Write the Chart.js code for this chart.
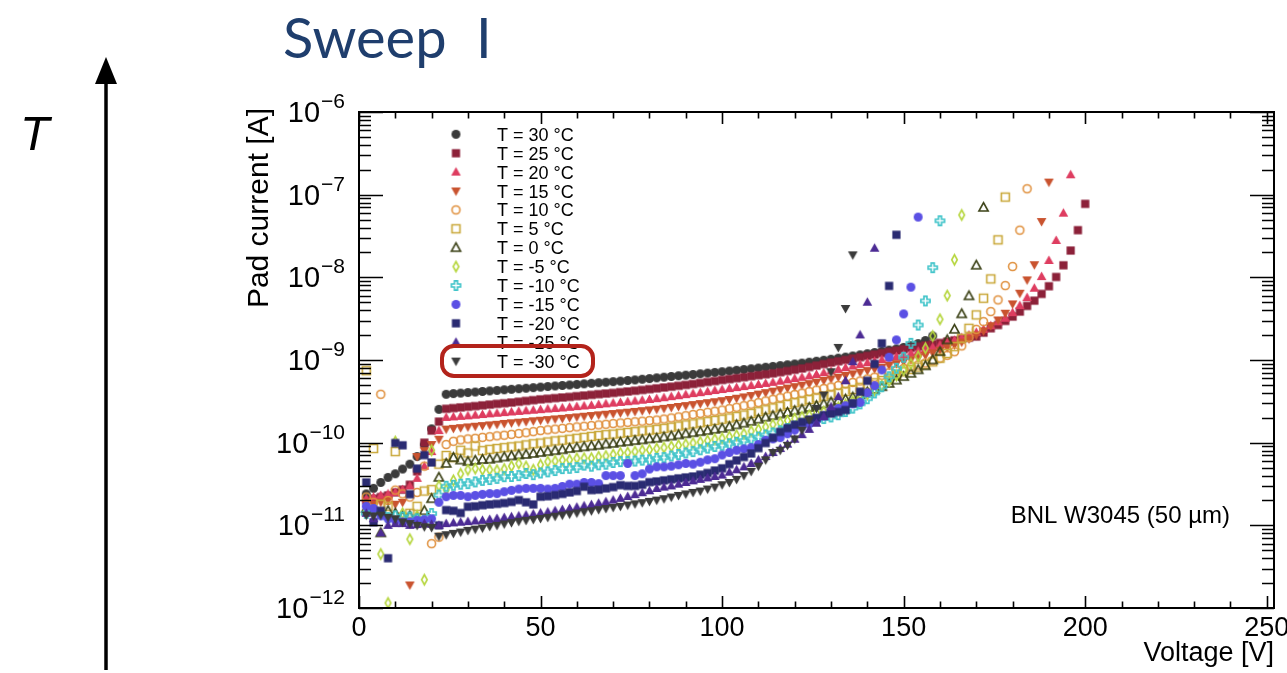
<!DOCTYPE html>
<html>
<head>
<meta charset="utf-8">
<title>Sweep I</title>
<script src="https://cdn.jsdelivr.net/npm/chart.js@4.4.1/dist/chart.umd.min.js"></script>
<style>
  html, body { margin: 0; padding: 0; background: #fff; }
  #wrap { position: relative; width: 1287px; height: 673px; overflow: hidden; }
  #ivChart { position: absolute; left: 0; top: 0; }
  #deco { position: absolute; left: 0; top: 0; pointer-events: none; }
</style>
</head>
<body>
<div id="wrap">
  <canvas id="ivChart" width="1287" height="673"></canvas>
  <svg id="deco" width="1287" height="673">
    <text x="283" y="58" font-family="Lato" font-size="56" fill="#1f3e6d" word-spacing="15">Sweep I</text>
    <text x="20" y="150" font-family="Liberation Sans" font-style="italic" font-size="48" fill="#000">T</text>
    <line x1="106" y1="670" x2="106" y2="80" stroke="#000" stroke-width="3.5"/>
    <polygon points="106,57 95,84 117,84" fill="#000"/>
  </svg>
</div>
<script>
// bias voltage [V], one point every 2 V
const volts = [2, 4, 6, 8, 10, 12, 14, 16, 18, 20, 22, 24, 26, 28, 30, 32, 34, 36, 38, 40,
  42, 44, 46, 48, 50, 52, 54, 56, 58, 60, 62, 64, 66, 68, 70, 72, 74, 76, 78, 80,
  82, 84, 86, 88, 90, 92, 94, 96, 98, 100, 102, 104, 106, 108, 110, 112, 114, 116, 118, 120,
  122, 124, 126, 128, 130, 132, 134, 136, 138, 140, 142, 144, 146, 148, 150, 152, 154, 156, 158, 160,
  162, 164, 166, 168, 170, 172, 174, 176, 178, 180, 182, 184, 186, 188, 190, 192, 194, 196, 198, 200];

const temps = [30, 25, 20, 15, 10, 5, 0, -5, -10, -15, -20, -25, -30];

// pad current in pA
const curT30 = [24, 28, 33, 38, 42, 48, 55, 68, 95, 147, 253,
  385, 392, 398, 404, 410, 416, 423, 429, 436, 442, 449, 456, 463, 470, 478, 485, 492, 499, 507, 515,
  523, 531, 539, 547, 556, 565, 574, 585, 596, 608, 620, 632, 644, 656, 668, 681, 694, 708, 722, 736,
  751, 767, 783, 800, 818, 836, 855, 875, 896, 918, 942, 967, 994, 1022, 1052, 1084, 1118, 1154, 1192, 1232,
  1274, 1318, 1365, 1420, 1490, 1580, 1720, 1950];
const curT25 = [20, 21, 22, 23, 25, 27, 31, 45, 100, 140, 180,
  257, 262, 267, 272, 277, 283, 289, 295, 300, 306, 313, 320, 327, 334, 340, 346, 352, 358, 365, 372,
  379, 386, 393, 400, 408, 416, 425, 434, 444, 454, 465, 476, 488, 500, 513, 527, 542, 557, 573, 588,
  603, 619, 636, 654, 672, 690, 712, 736, 762, 790, 822, 856, 892, 930, 965, 1000, 1040, 1080, 1120, 1165,
  1210, 1255, 1300, 1350, 1400, 1450, 1500, 1550, 1610, 1670, 1730, 1800, 1860, 1920,
  2140, 2420, 2650, 2970, 3350, 3850, 4510, 5220, 6300, 7810, 10100, 14000, 21100, 37200, 77400];
const curT20 = [21, 22, 23, 24, 25, 27, 30, 37, 52, 78, 140,
  202, 205, 208, 211, 215, 219, 223, 227, 231, 235, 239, 243, 247, 251, 255, 259, 263, 268, 273, 278,
  283, 289, 295, 301, 307, 313, 319, 326, 333, 341, 350, 360, 370, 381, 392, 403, 415, 427, 439, 451,
  464, 477, 491, 506, 521, 537, 555, 575, 596, 618, 642, 668, 700, 735, 770, 806, 845, 885, 925, 968,
  1010, 1055, 1100, 1150, 1210, 1280, 1350, 1430, 1520, 1620, 1730, 1860, 2000, 2160,
  2350, 2600, 2900, 3200, 3740, 4550, 5690, 7380, 10200, 16000, 27900, 59800, 174000];
const curT15 = [19, 18, 19, 20, 18, 19, 1.9, 68, 80, 95, 110,
  146, 149, 152, 155, 158, 161, 164, 167, 171, 174, 177, 180, 184, 187, 190, 194, 197, 201, 205, 209,
  213, 217, 221, 225, 230, 234, 239, 244, 249, 254, 260, 267, 274, 281, 289, 297, 305, 313, 322, 333,
  345, 358, 372, 387, 403, 420, 438, 457, 476, 496, 517, 540, 565, 592, 620, 650, 680, 712, 745, 780,
  818, 860, 905, 955, 1010, 1070, 1140, 1220, 1310, 1410, 1520, 1650, 1800, 2000,
  2250, 2600, 3050, 3680, 4770, 6430, 9310, 14200, 47300, 142000];
const curT10 = [22, 19, 385, 20, 26.7, 24, 22, 25, 52, 6.0, 7.2,
  95, 104, 108, 111, 113, 116, 118, 121, 123, 126, 129, 132, 136, 140, 143, 146, 149, 152, 155, 158,
  161, 164, 167, 170, 173, 176, 179, 182, 185, 188, 193, 199, 205, 212, 219, 226, 233, 240, 248, 258,
  268, 280, 292, 305, 320, 335, 350, 366, 382, 398, 415, 433, 452, 472, 492, 513, 535, 558, 590, 620,
  655, 700, 745, 790, 830, 870, 920, 980, 1050, 1140, 1260, 1480, 1880, 2350,
  2910, 3850, 5330, 7940, 13500, 37200, 117800];
const curT5 = [742, 85, 18, 17, 78, 12.5, 14, 17, 26, 27, 55,
  70, 66, 81, 75, 91, 80, 83, 85, 87, 89, 91, 94, 97, 99, 102, 105, 107, 110, 113, 116,
  119, 122, 125, 127, 130, 133, 136, 139, 142, 145, 149, 154, 159, 164, 169, 174, 180, 186, 192, 199,
  207, 216, 226, 237, 250, 263, 276, 290, 304, 318, 333, 348, 364,
  380, 398, 418, 440, 468, 500, 530, 565, 605, 660, 720, 770, 820, 880, 950, 1050,
  1200, 1450, 1830, 2420, 3510, 5590, 9570, 28400, 93500];
const curT0 = [16, 15, 8.1, 15, 14, 13, 13, 12.5, 15, 21, 38,
  56, 66, 61.5, 59, 61, 62.5, 63, 65, 67, 69, 71, 72, 74, 76, 78, 80, 82, 85, 87, 89,
  91, 93, 96, 98, 101, 103, 106, 108, 111, 113, 117, 120, 124, 128, 132, 136, 140, 145, 149, 156,
  164, 172, 181, 192, 203, 212, 222, 232, 243, 254, 266, 280, 294, 310, 322, 335, 355, 380, 410, 440,
  475, 520, 570, 630, 690, 760, 850, 1000, 1260, 1750, 2350, 3610, 5960, 14000, 70000];
const curTm5 = [15, 14, 4.5, 1.15, 103, 14, 6.8, 13, 2.2, 81, 30,
  27, 35, 42, 47, 48.6, 47, 47, 46.5, 48, 52, 56, 51.4, 47, 54, 58.9, 60, 61.5, 62, 64.6, 65,
  65, 67.5, 69, 72, 75, 76, 78, 81, 82, 85, 87, 90, 93, 96, 99, 102, 106, 110, 113, 118,
  123, 128, 138, 145, 155, 166, 175, 185, 195, 205, 215, 226, 238, 250, 268, 290, 315, 345, 385, 430,
  490, 560, 650, 760, 900, 1110, 1390, 1950, 3110, 6010, 16300, 56800];
const curTm10 = [14, 15.3, 14, 12.4, 13, 12.6, 12.6, 12, 11.5, 13.9, 23.2,
  29.7, 30.5, 31.5, 32, 33.5, 35, 35.8, 37, 38.8, 39, 40, 42.4, 41, 43, 44.4, 46, 48.6, 49, 50, 53.5,
  52, 54, 55, 57.6, 59, 59, 60, 61.5, 62, 64.6, 66, 69, 72, 75, 78, 82, 86, 90, 93, 97,
  101, 106, 111, 117, 124, 131, 139, 148, 158, 168, 178, 188, 196, 205, 218, 238, 262, 295, 340, 400,
  475, 628, 794, 1080, 1590, 2650, 5190, 13100, 48300];
const curTm15 = [17, 16, 13, 12, 11.5, 11, 11, 11.5, 11.7, 12, 19,
  22.2, 23, 23, 22.2, 23, 23.7, 24.2, 24.2, 25.5, 26.5, 27.5, 28, 28, 28, 27.5, 28, 29.5, 31.5, 31.5, 33,
  33, 32, 40, 40, 40, 56, 40, 42, 48, 51, 51, 52, 54, 56, 55, 58, 62, 64, 71, 76,
  81, 84, 87, 95, 107, 111, 115, 128, 142, 155, 169, 185, 210, 240, 260, 280, 295, 307, 402, 489,
  757, 1080, 1750, 3610, 7600, 53500];
const curTm20 = [33, 10.9, 15, 4.0, 99, 93, 23.8, 48.6, 70.8, 57.6, 10,
  15.3, 15, 14.1, 16.8, 17, 17.5, 17.9, 18.2, 18.6, 19.2, 20.2, 19, 17.9, 22.2, 22.5, 23.2, 24, 25, 26, 29.3,
  26.7, 27, 28, 29, 30.6, 30, 30, 31, 33.3, 34, 35, 36, 37, 38, 39, 41, 43, 46, 49, 55,
  61, 67, 74, 86, 99, 115, 135, 150, 165, 178, 190, 200, 215, 225, 235, 248, 299, 413, 561, 895,
  1590, 7870, 32700];
const curTm25 = [14, 12, 8.1, 10, 10.5, 10.5, 10, 10.2, 10.5, 10.3, 10,
  10.5, 10.7, 10.9, 11.1, 11.3, 11.5, 11.8, 12.1, 12.4, 12.7, 13, 13.3, 13.7, 14.1, 14.5, 15, 15.5, 16, 16.6, 17.2,
  17.8, 18.5, 19.3, 20.2, 21.2, 22.3, 23.5, 24.8, 26.2, 27.9, 29, 30, 31.5, 33, 34.5, 36, 37.5, 39, 40.5, 44,
  47, 51, 56, 62, 68, 76, 85, 96, 110, 125, 145, 172, 206, 272, 360, 561, 955, 2010, 5000, 22500];
const curTm30 = [13.3, 13, 13.3, 12.5, 12, 11, 10.5, 10, 9.6, 9.4, 7.4,
  7.7, 8.0, 8.3, 8.7, 9.0, 9.3, 9.7, 10.0, 10.4, 10.8, 11.2, 11.5, 11.8, 12.1, 12.5, 12.9, 13.3, 13.7, 14.1, 14.6,
  15.0, 15.5, 16.0, 16.5, 17.0, 17.6, 18.2, 18.8, 19.5, 20.2, 21, 22, 23, 24, 25, 26, 27.5, 29, 31, 33,
  36, 40, 45, 52, 62, 76, 81, 93, 111, 142, 188, 260, 377, 720, 1420, 4200, 18700];

const currents = [curT30, curT25, curT20, curT15, curT10, curT5, curT0,
  curTm5, curTm10, curTm15, curTm20, curTm25, curTm30];

const colors = ["#3b3b3b", "#8c2139", "#de3d60", "#c9532f", "#e0913f", "#c9a83a", "#3b4116",
  "#b6d63e", "#3ec3c9", "#5b50e4", "#2a2b72", "#4c2b94", "#3b3b3b"];
const shapes = ["circle", "square", "up", "down", "ocircle", "osquare", "oup",
  "odiamond", "ocross", "circle", "square", "up", "down"];

const font = "Liberation Sans, Arial, sans-serif";

function makeMarker(shape, color) {
  const c = document.createElement("canvas");
  c.width = 15;
  c.height = 15;
  const g = c.getContext("2d");
  const m = 7.5;
  g.fillStyle = color;
  g.strokeStyle = color;
  g.lineWidth = 1.6;
  g.beginPath();
  if (shape === "circle") { g.arc(m, m, 4.5, 0, Math.PI * 2); g.fill(); }
  if (shape === "square") { g.rect(m - 4.1, m - 4.1, 8.2, 8.2); g.fill(); }
  if (shape === "up") { g.moveTo(m, m - 5); g.lineTo(m + 4.8, m + 3.6); g.lineTo(m - 4.8, m + 3.6); g.closePath(); g.fill(); }
  if (shape === "down") { g.moveTo(m, m + 5); g.lineTo(m + 4.8, m - 3.6); g.lineTo(m - 4.8, m - 3.6); g.closePath(); g.fill(); }
  if (shape === "ocircle") { g.arc(m, m, 4, 0, Math.PI * 2); g.stroke(); }
  if (shape === "osquare") { g.rect(m - 4, m - 4, 8, 8); g.stroke(); }
  if (shape === "oup") { g.moveTo(m, m - 4.8); g.lineTo(m + 4.6, m + 3.5); g.lineTo(m - 4.6, m + 3.5); g.closePath(); g.stroke(); }
  if (shape === "odiamond") { g.moveTo(m, m - 5); g.lineTo(m + 2.8, m); g.lineTo(m, m + 5); g.lineTo(m - 2.8, m); g.closePath(); g.stroke(); }
  if (shape === "ocross") {
    const a = 4.6, b = 1.5;
    g.moveTo(m - b, m - a); g.lineTo(m + b, m - a); g.lineTo(m + b, m - b); g.lineTo(m + a, m - b);
    g.lineTo(m + a, m + b); g.lineTo(m + b, m + b); g.lineTo(m + b, m + a); g.lineTo(m - b, m + a);
    g.lineTo(m - b, m + b); g.lineTo(m - a, m + b); g.lineTo(m - a, m - b); g.lineTo(m - b, m - b);
    g.closePath(); g.stroke();
  }
  return c;
}

const markers = shapes.map((s, i) => makeMarker(s, colors[i]));

const datasets = temps.map((t, i) => ({
  label: "T = " + t + " °C",
  data: currents[i].map((pa, k) => ({ x: volts[k], y: pa * 1e-12 })),
  pointStyle: markers[i],
  pointRadius: 5,
  pointHoverRadius: 5,
  order: temps.length - 1 - i
}));

// ROOT-style frame, ticks, labels, legend and text drawn on top
const rootFrame = {
  id: "rootFrame",
  afterDraw(chart) {
    const ctx = chart.ctx;
    const a = chart.chartArea;
    const xs = chart.scales.x;
    const ys = chart.scales.y;
    ctx.save();
    ctx.strokeStyle = "#000";
    ctx.fillStyle = "#000";

    // x ticks
    ctx.lineWidth = 1.6;
    ctx.beginPath();
    for (let v = 0; v <= 250; v += 10) {
      const px = Math.round(xs.getPixelForValue(v)) + 0.5;
      const len = v % 50 === 0 ? 12 : 6.5;
      ctx.moveTo(px, a.bottom); ctx.lineTo(px, a.bottom - len);
      ctx.moveTo(px, a.top); ctx.lineTo(px, a.top + len);
    }
    // y ticks
    for (let d = -12; d <= -6; d++) {
      for (let m = 1; m <= 9; m++) {
        if (d === -6 && m > 1) break;
        const py = Math.round(ys.getPixelForValue(m * Math.pow(10, d))) + 0.5;
        const len = m === 1 ? 24 : 12;
        ctx.moveTo(a.left, py); ctx.lineTo(a.left + len, py);
        ctx.moveTo(a.right, py); ctx.lineTo(a.right - len, py);
      }
    }
    ctx.stroke();

    // frame
    ctx.lineWidth = 2;
    ctx.strokeRect(a.left, a.top, a.right - a.left, a.bottom - a.top);

    // x labels
    ctx.font = "27px " + font;
    ctx.textAlign = "center";
    ctx.textBaseline = "alphabetic";
    for (let v = 0; v <= 250; v += 50) {
      ctx.fillText(String(v), xs.getPixelForValue(v), 636);
    }
    // y labels 10^n
    for (let d = -12; d <= -6; d++) {
      const py = ys.getPixelForValue(Math.pow(10, d));
      const ex = "\u2212" + (-d);
      ctx.font = "21px " + font;
      const ew = ctx.measureText(ex).width;
      ctx.textAlign = "left";
      const right = 345;
      ctx.fillText(ex, right - ew, py - 4);
      ctx.font = "29px " + font;
      ctx.textAlign = "right";
      ctx.fillText("10", right - ew - 1, py + 10);
    }

    // axis titles
    ctx.font = "27px " + font;
    ctx.textAlign = "right";
    ctx.fillText("Voltage [V]", a.right, 661);
    ctx.save();
    ctx.translate(268, a.top - 4);
    ctx.rotate(-Math.PI / 2);
    ctx.font = "30px " + font;
    ctx.textAlign = "right";
    ctx.fillText("Pad current [A]", 0, 0);
    ctx.restore();

    // sensor label
    ctx.font = "24px " + font;
    ctx.textAlign = "right";
    ctx.fillText("BNL W3045 (50 \u00b5m)", 1230, 523);

    // legend
    ctx.font = "18px " + font;
    ctx.textAlign = "left";
    temps.forEach((t, i) => {
      const ry = 134.3 + 18.9 * i;
      ctx.drawImage(markers[i], 456 - 7.5, ry - 7.5);
      ctx.fillStyle = "#000";
      ctx.fillText("T = " + t + " \u00b0C", 497, ry + 6.5);
    });

    // highlight box round the -30 entry
    const bx = 442, by = 346, bw = 151, bh = 30, r = 12;
    ctx.strokeStyle = "#b3231b";
    ctx.lineWidth = 4;
    ctx.beginPath();
    ctx.moveTo(bx + r, by);
    ctx.arcTo(bx + bw, by, bx + bw, by + bh, r);
    ctx.arcTo(bx + bw, by + bh, bx, by + bh, r);
    ctx.arcTo(bx, by + bh, bx, by, r);
    ctx.arcTo(bx, by, bx + bw, by, r);
    ctx.closePath();
    ctx.stroke();
    ctx.restore();
  }
};

const ctx = document.getElementById("ivChart").getContext("2d");
const chart = new Chart(ctx, {
  type: "scatter",
  data: { datasets },
  options: {
    responsive: false,
    animation: false,
    devicePixelRatio: 1,
    layout: { padding: { left: 359, right: 13, top: 112, bottom: 65 } },
    scales: {
      x: { type: "linear", min: 0, max: 252, display: false },
      y: { type: "logarithmic", min: 1e-12, max: 1e-6, display: false }
    },
    plugins: {
      legend: { display: false },
      tooltip: { enabled: false }
    }
  },
  plugins: [rootFrame]
});
</script>
</body>
</html>
